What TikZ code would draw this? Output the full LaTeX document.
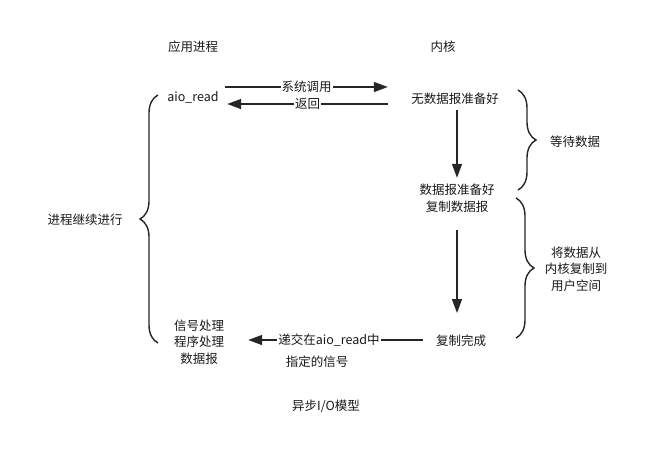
\documentclass[tikz,border=0pt]{standalone}
\usepackage{fontspec}
\setmainfont{Noto Sans CJK SC}
\usetikzlibrary{arrows.meta,decorations.pathreplacing}
\begin{document}
\begin{tikzpicture}[x=1pt,y=-1pt,
  txt/.style={font=\fontsize{12.5}{16.5}\selectfont, inner sep=0pt, align=center, text=black!90},
  arr/.style={line width=1.4pt, draw=black!85, -{Triangle[length=14pt,width=10pt]}},
  lbl/.style={txt, fill=white, inner xsep=1pt, inner ysep=1pt},
  brc/.style={line width=1.4pt, draw=black!85, decorate, decoration={brace, amplitude=18pt}}]
\useasboundingbox (0,0) rectangle (663,448);
% headers
\node[txt] (app) at (193,47) {应用进程};
\node[txt] (kern) at (443,47) {内核};
% nodes
\node[txt, minimum width=64pt, minimum height=22pt] (aio) at (193,97) {aio\_read};
\node[txt, minimum width=134pt, minimum height=22pt] (nodata) at (455,99) {无数据报准备好};
\node[txt, minimum height=40pt] (ready) at (457,198) {数据报准备好\\复制数据报};
\node[txt, minimum width=76pt, minimum height=22pt] (done) at (461,341) {复制完成};
\node[txt, minimum width=98pt] (sig) at (199,342) {信号处理\\程序处理\\数据报};
% side labels
\node[txt] (cont) at (85,220) {进程继续进行};
\node[txt] (wait) at (575,142) {等待数据};
\node[txt] (copy) at (576,269) {将数据从\\内核复制到\\用户空间};
\node[txt] (title) at (326,406) {异步I/O模型};
% arrows
\draw[arr] (aio.east |- 0,87) -- (nodata.west |- 0,87)
  node[lbl, midway] (l1) {系统调用};
\draw[arr] (nodata.west |- 0,104) -- ([xshift=2pt]aio.east |- 0,104)
  node[lbl, midway] (l2) {返回};
\draw[arr] (nodata.south -| 457,0) -- (ready.north);
\coordinate (r2) at (457,230);
\draw[arr] (r2) -- (457,313) coordinate (d2);
\draw[arr] (done.west |- 0,340) -- (sig.east |- 0,340);
\node[lbl] (l3) at (329,340) {递交在aio\_read中};
\node[txt] (l4) at (317,362) {指定的信号};
% braces
\draw[brc] (518,90) -- (518,190);
\draw[brc] (516,198) -- (516,338);
\draw[brc] (158,343) -- (158,95);
\end{tikzpicture}
\end{document}
